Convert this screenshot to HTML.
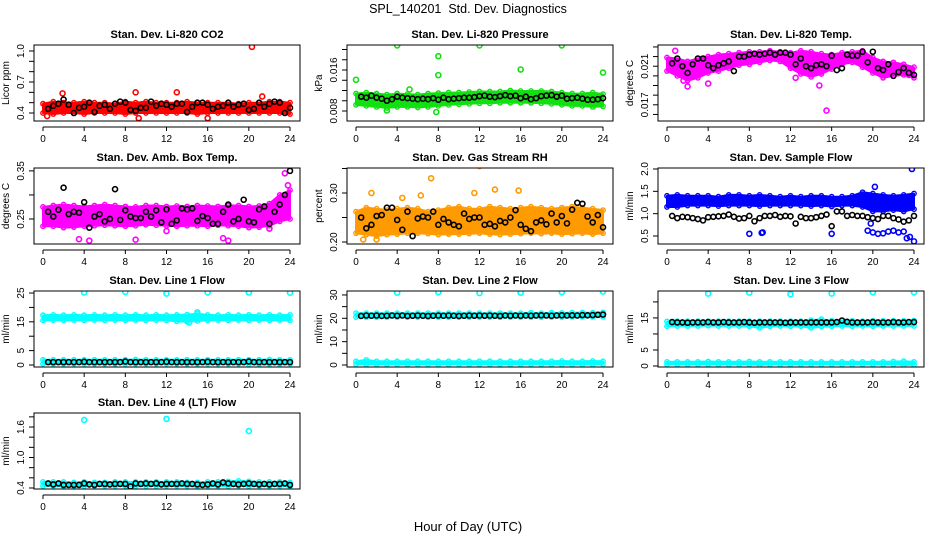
<!DOCTYPE html>
<html><head><meta charset="utf-8"><style>
html,body{margin:0;padding:0;background:#fff}
svg{display:block}
text{font-family:"Liberation Sans",sans-serif}
</style></head><body>
<svg id="chart" width="936" height="540" viewBox="0 0 936 540" xmlns="http://www.w3.org/2000/svg">
<text x="468" y="13" font-size="12.5" text-anchor="middle">SPL_140201&#160; Std. Dev. Diagnostics</text>
<text x="468" y="531" font-size="13" text-anchor="middle">Hour of Day (UTC)</text>
</svg>
<script>
const bandHours=[0,1,2,3,4,5,6,7,8,9,10,11,12,13,14,15,16,17,18,19,20,21,22,23,24];
const blackHours=[0.5,1,1.5,2,2.5,3,3.5,4,4.5,5,5.5,6,6.5,7,7.5,8,8.5,9,9.5,10,10.5,11,11.5,12,12.5,13,13.5,14,14.5,15,15.5,16,16.5,17,17.5,18,18.5,19,19.5,20,20.5,21,21.5,22,22.5,23,23.5,24];
const xTicks=[0,4,8,12,16,20,24];

const co2Low=[0.40,0.39,0.40,0.40,0.39,0.40,0.40,0.40,0.39,0.40,0.40,0.40,0.40,0.40,0.40,0.39,0.40,0.40,0.40,0.40,0.40,0.40,0.40,0.40,0.39];
const co2High=[0.49,0.51,0.50,0.50,0.51,0.50,0.50,0.49,0.51,0.50,0.51,0.50,0.50,0.50,0.51,0.50,0.50,0.50,0.50,0.49,0.50,0.50,0.51,0.51,0.50];
const co2Black=[0.44,0.47,0.49,0.53,0.48,0.40,0.45,0.46,0.50,0.41,0.47,0.48,0.44,0.49,0.51,0.50,0.43,0.42,0.45,0.45,0.51,0.47,0.49,0.48,0.46,0.49,0.49,0.41,0.46,0.50,0.50,0.48,0.44,0.46,0.47,0.50,0.46,0.48,0.49,0.43,0.44,0.50,0.46,0.49,0.51,0.50,0.40,0.45];
const co2OutX=[20.3,0.4,9.3,16,9,13,1.9,21.3];
const co2OutY=[1.04,0.37,0.35,0.35,0.60,0.60,0.59,0.56];

const presLow=[0.0092,0.0090,0.0088,0.0086,0.0088,0.0088,0.0087,0.0088,0.0090,0.0092,0.0093,0.0094,0.0095,0.0095,0.0096,0.0096,0.0096,0.0096,0.0095,0.0094,0.0092,0.0090,0.0090,0.0088,0.0089];
const presHigh=[0.0114,0.0116,0.0114,0.0112,0.0114,0.0113,0.0112,0.0114,0.0115,0.0116,0.0116,0.0117,0.0118,0.0118,0.0118,0.0120,0.0119,0.0119,0.0119,0.0118,0.0116,0.0114,0.0114,0.0116,0.0113];
const presBlack=[0.0108,0.0106,0.0110,0.0106,0.0104,0.0100,0.0103,0.0108,0.0106,0.0105,0.0104,0.0103,0.0104,0.0103,0.0105,0.0102,0.0106,0.0103,0.0104,0.0105,0.0106,0.0106,0.0107,0.0109,0.0110,0.0108,0.0107,0.0109,0.0111,0.0109,0.0110,0.0105,0.0108,0.0103,0.0105,0.0109,0.0110,0.0111,0.0108,0.0110,0.0104,0.0105,0.0106,0.0104,0.0102,0.0102,0.0103,0.0105];
const presOutX=[0,4,8,8,12,16,20,24,7.8,3,5.2];
const presOutY=[0.0141,0.0208,0.0187,0.0150,0.0208,0.0161,0.0208,0.0155,0.0078,0.0081,0.0122];

const tempLow=[0.0205,0.0200,0.0195,0.0198,0.0203,0.0205,0.0208,0.0211,0.0212,0.0214,0.0216,0.0215,0.0208,0.0202,0.0199,0.0202,0.0207,0.0212,0.0214,0.0209,0.0203,0.0198,0.0200,0.0201,0.0198];
const tempHigh=[0.0219,0.0218,0.0215,0.0218,0.0220,0.0222,0.0223,0.0224,0.0225,0.0225,0.0226,0.0225,0.0224,0.0226,0.0225,0.0223,0.0222,0.0224,0.0225,0.0226,0.0219,0.0215,0.0214,0.0212,0.0209];
const tempBlack=[0.0213,0.0218,0.0210,0.0203,0.0212,0.0218,0.0218,0.0211,0.0208,0.0211,0.0213,0.0215,0.0205,0.0220,0.0220,0.0222,0.0223,0.0222,0.0223,0.0224,0.0222,0.0224,0.0224,0.0222,0.0212,0.0218,0.0210,0.0208,0.0211,0.0212,0.0210,0.0221,0.0206,0.0208,0.0222,0.0221,0.0221,0.0225,0.0214,0.0225,0.0208,0.0206,0.0212,0.0200,0.0204,0.0208,0.0203,0.0201];
const tempOutX=[15.5,14.8,2,0.8,1.6,23.5,12.5,4];
const tempOutY=[0.0164,0.0190,0.0189,0.0226,0.0195,0.0201,0.0198,0.0192];

const ambLow=[0.235,0.235,0.232,0.233,0.235,0.236,0.237,0.236,0.235,0.236,0.238,0.237,0.236,0.235,0.236,0.236,0.235,0.237,0.236,0.235,0.232,0.233,0.236,0.245,0.250];
const ambHigh=[0.275,0.278,0.280,0.278,0.276,0.278,0.280,0.278,0.276,0.275,0.278,0.278,0.276,0.277,0.276,0.278,0.277,0.276,0.278,0.278,0.276,0.277,0.282,0.300,0.310];
const ambBlack=[0.265,0.255,0.269,0.315,0.260,0.265,0.263,0.285,0.232,0.255,0.260,0.245,0.250,0.312,0.248,0.268,0.255,0.252,0.252,0.265,0.255,0.268,0.243,0.270,0.240,0.247,0.272,0.270,0.272,0.246,0.256,0.252,0.240,0.240,0.265,0.280,0.245,0.250,0.290,0.245,0.243,0.270,0.276,0.240,0.265,0.280,0.300,0.350];
const ambOutX=[3.5,4.5,9,12,17.5,18,22,23.5,23.8];
const ambOutY=[0.208,0.205,0.207,0.225,0.210,0.205,0.230,0.345,0.320];

const rhLow=[0.218,0.215,0.212,0.215,0.216,0.218,0.218,0.217,0.215,0.216,0.216,0.217,0.218,0.216,0.215,0.216,0.217,0.218,0.217,0.218,0.216,0.217,0.218,0.216,0.218];
const rhHigh=[0.262,0.270,0.268,0.265,0.268,0.270,0.268,0.262,0.265,0.270,0.272,0.268,0.268,0.272,0.270,0.268,0.270,0.272,0.270,0.268,0.270,0.272,0.270,0.268,0.265];
const rhBlack=[0.250,0.228,0.235,0.253,0.255,0.270,0.270,0.245,0.225,0.262,0.212,0.248,0.252,0.250,0.262,0.235,0.247,0.240,0.235,0.232,0.258,0.247,0.250,0.250,0.235,0.237,0.232,0.243,0.240,0.250,0.265,0.235,0.227,0.222,0.240,0.244,0.236,0.258,0.240,0.253,0.238,0.266,0.280,0.278,0.252,0.240,0.255,0.230];
const rhOutX=[7.3,6.3,12,13.5,4.5,1.5,15.8,2,0.7,11.5];
const rhOutY=[0.330,0.295,0.355,0.307,0.290,0.300,0.305,0.205,0.205,0.300];

const flowLow=[1.15,1.15,1.18,1.18,1.18,1.17,1.18,1.18,1.18,1.17,1.18,1.18,1.18,1.18,1.17,1.18,1.16,1.18,1.18,1.15,1.05,1.05,1.08,1.05,1.10];
const flowHigh=[1.40,1.42,1.40,1.40,1.40,1.38,1.42,1.42,1.40,1.42,1.40,1.38,1.40,1.38,1.40,1.40,1.38,1.38,1.40,1.48,1.45,1.42,1.40,1.42,1.45];
const flowBlack=[0.95,0.90,0.93,0.92,0.90,0.88,0.85,0.92,0.93,0.94,0.95,0.98,0.93,0.89,0.90,0.95,0.83,0.90,0.95,0.95,0.97,0.93,0.95,0.94,0.78,0.93,0.90,0.90,0.92,0.95,0.98,0.72,1.05,1.05,0.95,0.97,0.95,0.95,0.92,0.90,0.88,0.95,0.95,0.90,0.87,0.82,0.85,0.95];
const flowOutX=[8,9.2,9.3,16,19.5,20,20.5,21,21.5,22,22.5,23,23.3,23.6,24,23.8,19.8,20.2];
const flowOutY=[0.55,0.57,0.58,0.55,0.62,0.58,0.55,0.56,0.60,0.62,0.58,0.60,0.45,0.48,0.38,2.0,0.78,1.60];

const l1UpLow=[15.5,15.6,15.5,15.6,15.5,15.6,15.5,15.6,15.5,15.6,15.5,15.6,15.5,15.2,15.0,15.3,15.5,15.6,15.5,15.6,15.5,15.6,15.5,15.6,15.5];
const l1UpHigh=[17.3,17.4,17.3,17.4,17.3,17.4,17.3,17.4,17.3,17.4,17.3,17.4,17.3,17.4,17.5,17.8,17.4,17.3,17.4,17.3,17.4,17.3,17.4,17.3,17.4];
const l1LoLow=[0.4,0.4,0.4,0.4,0.4,0.4,0.4,0.4,0.4,0.4,0.4,0.4,0.4,0.4,0.4,0.4,0.4,0.4,0.4,0.4,0.3,0.2,0.3,0.3,0.4];
const l1LoHigh=[1.8,1.8,1.8,1.8,1.8,1.8,1.8,1.8,1.8,1.9,1.8,1.8,1.8,1.8,1.8,1.8,1.8,1.8,1.8,1.8,1.8,1.8,1.9,1.8,1.8];
const l1Black=[1.0,1.0,1.0,1.0,1.0,1.0,1.0,1.1,1.0,1.0,1.0,1.0,1.0,1.0,1.0,1.2,1.0,1.0,1.0,1.0,1.0,1.0,1.0,1.1,1.0,1.0,1.0,1.0,1.0,1.0,1.0,1.1,1.0,1.0,1.0,1.0,1.0,1.0,1.0,1.2,1.0,1.0,1.0,1.0,1.0,1.0,1.0,1.0];
const l1OutX=[4,8,12,16,20,24,15,14.2];
const l1OutY=[25.2,25.4,24.8,25.2,25.2,25.1,18.3,14.8];

const l2UpLow=[20.5,20.5,20.5,20.5,20.5,20.5,20.5,20.5,20.5,20.5,20.5,20.5,20.5,20.5,20.5,20.5,20.5,20.5,20.5,20.5,20.5,20.6,20.6,20.6,20.6];
const l2UpHigh=[22.2,22.2,22.2,22.2,22.2,22.2,22.2,22.2,22.2,22.2,22.2,22.2,22.2,22.2,22.2,22.2,22.2,22.4,22.2,22.4,22.3,22.4,22.5,22.4,22.6];
const l2LoLow=[0.3,0.3,0.3,0.3,0.3,0.3,0.3,0.3,0.3,0.3,0.3,0.3,0.3,0.3,0.3,0.3,0.3,0.3,0.3,0.3,0.2,0.2,0.2,0.2,0.3];
const l2LoHigh=[1.6,2.2,1.6,1.6,1.6,1.6,1.6,1.6,1.6,1.6,1.6,1.6,1.6,1.6,1.6,1.6,1.6,1.6,1.6,1.6,1.7,1.6,1.6,1.7,1.6];
const l2Black=[21.0,21.2,21.1,21.2,21.0,21.1,21.2,21.1,21.2,21.0,21.1,21.2,21.1,21.0,21.1,21.2,21.1,21.2,21.1,21.0,21.1,21.2,21.1,21.2,21.1,21.2,21.1,21.0,21.2,21.1,21.2,21.1,21.2,21.1,21.2,21.3,21.2,21.1,21.2,21.3,21.2,21.3,21.2,21.4,21.3,21.4,21.5,21.6];
const l2OutX=[4,8,12,16,20,24];
const l2OutY=[31.0,31.2,30.8,31.0,31.2,31.5];

const l3UpLow=[12.4,12.5,12.5,12.5,12.6,12.5,12.5,12.5,12.4,11.9,12.4,12.5,12.4,12.4,11.9,12.3,12.4,12.5,12.4,12.5,12.4,12.5,12.5,12.5,12.5];
const l3UpHigh=[13.9,14.0,14.0,14.0,14.0,14.0,14.0,14.0,14.0,14.0,14.0,14.0,14.0,14.0,14.3,14.6,14.1,14.2,14.1,14.0,14.1,14.1,14.1,14.1,14.2];
const l3LoLow=[0.5,0.5,0.5,0.5,0.5,0.5,0.5,0.5,0.5,0.3,0.5,0.5,0.5,0.5,0.5,0.5,0.5,0.5,0.5,0.5,0.5,0.5,0.5,0.3,0.4];
const l3LoHigh=[1.3,1.3,1.3,1.3,1.4,1.3,1.3,1.3,1.4,1.3,1.3,1.3,1.3,1.3,1.3,1.3,1.3,1.3,1.3,1.3,1.3,1.3,1.4,1.5,1.3];
const l3Black=[13.7,13.6,13.6,13.5,13.6,13.6,13.6,13.7,13.6,13.6,13.7,13.6,13.6,13.6,13.7,13.6,13.5,13.6,13.6,13.6,13.6,13.6,13.5,13.6,13.6,13.6,13.6,13.6,13.6,13.6,13.6,13.6,13.7,14.2,13.8,13.6,13.6,13.6,13.6,13.7,13.6,13.6,13.6,13.7,13.6,13.6,13.7,13.7];
const l3OutX=[4,8,12,16,20,24];
const l3OutY=[22.6,22.9,22.4,22.6,23.0,23.0];

const l4Low=[0.44,0.44,0.43,0.43,0.44,0.44,0.44,0.44,0.44,0.44,0.44,0.44,0.44,0.44,0.44,0.43,0.44,0.44,0.44,0.44,0.44,0.44,0.44,0.44,0.43];
const l4High=[0.52,0.52,0.52,0.51,0.52,0.51,0.51,0.52,0.52,0.52,0.52,0.52,0.52,0.52,0.51,0.51,0.52,0.52,0.53,0.54,0.53,0.52,0.52,0.52,0.51];
const l4Black=[0.49,0.47,0.49,0.46,0.46,0.46,0.46,0.49,0.47,0.46,0.48,0.48,0.47,0.48,0.48,0.48,0.43,0.49,0.48,0.49,0.48,0.49,0.47,0.48,0.48,0.48,0.49,0.48,0.48,0.47,0.46,0.47,0.49,0.47,0.51,0.49,0.48,0.47,0.48,0.49,0.48,0.47,0.48,0.47,0.48,0.48,0.49,0.46];
const l4OutX=[4,12,20];
const l4OutY=[1.74,1.76,1.52];

const panels=[
 {name:'co2',title:'Stan. Dev. Li-820 CO2',yl:'Licor ppm',col:0,row:0,ymin:0.3226,ymax:1.058,ticks:[0.4,0.5,0.6,0.7,0.8,0.9,1.0],labels:['0.4','','','0.7','','','1.0'],color:'#ff0000',bands:[[co2Low,co2High]],black:co2Black,ox:co2OutX,oy:co2OutY},
 {name:'pressure',title:'Stan. Dev. Li-820 Pressure',yl:'kPa',col:1,row:0,ymin:0.00605,ymax:0.02088,ticks:[0.008,0.010,0.012,0.014,0.016,0.018,0.020],labels:['0.008','','','','0.016','',''],color:'#11e011',bands:[[presLow,presHigh]],black:presBlack,ox:presOutX,oy:presOutY},
 {name:'li820-temp',title:'Stan. Dev. Li-820 Temp.',yl:'degrees C',col:2,row:0,ymin:0.01532,ymax:0.0232,ticks:[0.016,0.017,0.018,0.019,0.020,0.021,0.022,0.023],labels:['','0.017','','','','0.021','',''],color:'#ff00ff',bands:[[tempLow,tempHigh]],black:tempBlack,ox:tempOutX,oy:tempOutY},
 {name:'amb-box-temp',title:'Stan. Dev. Amb. Box Temp.',yl:'degrees C',col:0,row:1,ymin:0.198,ymax:0.356,ticks:[0.25,0.30,0.35],labels:['0.25','','0.35'],color:'#ff00ff',bands:[[ambLow,ambHigh]],black:ambBlack,ox:ambOutX,oy:ambOutY},
 {name:'gas-stream-rh',title:'Stan. Dev. Gas Stream RH',yl:'percent',col:1,row:1,ymin:0.1959,ymax:0.351,ticks:[0.20,0.25,0.30,0.35],labels:['0.20','','0.30',''],color:'#ff9a00',bands:[[rhLow,rhHigh]],black:rhBlack,ox:rhOutX,oy:rhOutY},
 {name:'sample-flow',title:'Stan. Dev. Sample Flow',yl:'ml/min',col:2,row:1,ymin:0.321,ymax:2.022,ticks:[0.5,1.0,1.5,2.0],labels:['0.5','1.0','1.5','2.0'],color:'#0000ff',bands:[[flowLow,flowHigh]],black:flowBlack,ox:flowOutX,oy:flowOutY},
 {name:'line1-flow',title:'Stan. Dev. Line 1 Flow',yl:'ml/min',col:0,row:2,ymin:-0.69,ymax:25.7,ticks:[0,5,10,15,20,25],labels:['0','5','','15','','25'],color:'#00ffff',bands:[[l1UpLow,l1UpHigh],[l1LoLow,l1LoHigh]],black:l1Black,ox:l1OutX,oy:l1OutY},
 {name:'line2-flow',title:'Stan. Dev. Line 2 Flow',yl:'ml/min',col:1,row:2,ymin:-0.86,ymax:31.7,ticks:[0,5,10,15,20,25,30],labels:['0','','10','','20','','30'],color:'#00ffff',bands:[[l2UpLow,l2UpHigh],[l2LoLow,l2LoHigh]],black:l2Black,ox:l2OutX,oy:l2OutY},
 {name:'line3-flow',title:'Stan. Dev. Line 3 Flow',yl:'ml/min',col:2,row:2,ymin:-0.31,ymax:23.4,ticks:[0,5,10,15,20],labels:['0','5','','15',''],color:'#00ffff',bands:[[l3UpLow,l3UpHigh],[l3LoLow,l3LoHigh]],black:l3Black,ox:l3OutX,oy:l3OutY},
 {name:'line4-flow',title:'Stan. Dev. Line 4 (LT) Flow',yl:'ml/min',col:0,row:3,ymin:0.38,ymax:1.876,ticks:[0.4,0.6,0.8,1.0,1.2,1.4,1.6,1.8],labels:['0.4','','','1.0','','','1.6',''],color:'#00ffff',bands:[[l4Low,l4High]],black:l4Black,ox:l4OutX,oy:l4OutY}
];

const svg=document.getElementById('chart');
const NS='http://www.w3.org/2000/svg';
const colLeft=[34,347,658], rowTop=[45,168,291,413], BW=266, BH=76;
function mk(tag,attrs,parent){const e=document.createElementNS(NS,tag);for(const k in attrs)e.setAttribute(k,attrs[k]);(parent||svg).appendChild(e);return e;}

panels.forEach(p=>{
 const L=colLeft[p.col],T=rowTop[p.row],B=T+BH,R=L+BW;
 const xs=h=>L+9+h*(BW-19)/24;
 const ys=v=>B-(v-p.ymin)/(p.ymax-p.ymin)*BH;
 const g=mk('g',{});
 
 
 const cp=mk('clipPath',{id:'c-'+p.name},g);mk('rect',{x:L,y:T,width:BW,height:BH},cp);
 const t=mk('text',{x:(L+R)/2,y:T-7,'font-size':11,'font-weight':'bold','text-anchor':'middle'},g);t.textContent=p.title;
 
 
 const data=mk('g',{'clip-path':'url(#c-'+p.name+')'},g);
 
 
 p.bands.forEach(([lo,hi])=>{
  let d='';bandHours.forEach((h,i)=>{d+=(i?'L':'M')+xs(h).toFixed(1)+','+ys(hi[i]).toFixed(1);});
  for(let i=bandHours.length-1;i>=0;i--)d+='L'+xs(bandHours[i]).toFixed(1)+','+ys(lo[i]).toFixed(1);
  const poly=mk('path',{d:d+'Z',fill:p.color,stroke:p.color,'stroke-width':2,'stroke-linejoin':'round'},data);
  
  
  bandHours.forEach((h,i)=>{[lo[i],hi[i]].forEach(v=>{const c=mk('circle',{cx:xs(h),cy:ys(v),r:2.2,fill:'none',stroke:p.color,'stroke-width':1.4},data);
   
   });});
 });
 p.ox.forEach((x,i)=>{const c=mk('circle',{cx:xs(x),cy:ys(p.oy[i]),r:2.5,fill:'none',stroke:p.color,'stroke-width':1.6},data);
  
  });
 p.black.forEach((v,i)=>{const c=mk('circle',{cx:xs(blackHours[i]),cy:ys(v),r:2.5,fill:'none',stroke:'#000','stroke-width':1.6},data);
  
  });
 const box=mk('rect',{x:L,y:T,width:BW,height:BH,fill:'none',stroke:'#000','stroke-width':1},g);
 
 
 const xa=mk('g',{},g);
 
 
 mk('line',{x1:xs(0),x2:xs(24),y1:B+6,y2:B+6,stroke:'#000'},xa);
 xTicks.forEach(h=>{mk('line',{x1:xs(h),x2:xs(h),y1:B+6,y2:B+10,stroke:'#000'},xa);
  const tl=mk('text',{x:xs(h),y:B+21,'font-size':10,'text-anchor':'middle'},xa);tl.textContent=h;});
 const ya=mk('g',{},g);
 
 
 mk('line',{x1:L,x2:L,y1:ys(p.ticks[0]),y2:ys(p.ticks[p.ticks.length-1]),stroke:'#000'},ya);
 p.ticks.forEach((v,i)=>{const y=ys(v);mk('line',{x1:L-5,x2:L,y1:y,y2:y,stroke:'#000'},ya);
  if(p.labels[i]){const tl=mk('text',{x:L-10,y:y,'font-size':10,'text-anchor':'middle',transform:'rotate(-90 '+(L-10)+' '+y+')'},ya);tl.textContent=p.labels[i];}});
 const cy=(T+B)/2;
 const yt=mk('text',{x:L-25,y:cy,'font-size':10,'text-anchor':'middle',transform:'rotate(-90 '+(L-25)+' '+cy+')'},ya);yt.textContent=p.yl;
 
 
});
</script>
</body></html>
